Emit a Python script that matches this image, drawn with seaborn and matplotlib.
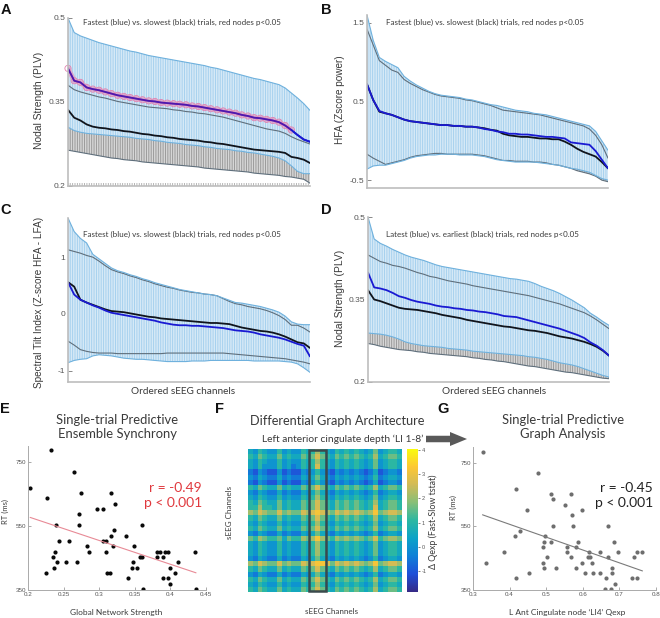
"""Ordered sEEG channel curves with single-trial scatter and graph heatmap."""

import matplotlib
matplotlib.use("Agg")
import matplotlib.pyplot as plt
from matplotlib.colors import LinearSegmentedColormap
from matplotlib.patches import FancyArrow, Rectangle
import numpy as np
import seaborn as sns

CHANNELS = list(range(40))

A_FAST_UPPER = [.500,.474,.468,.464,.460,.456,.453,.450,.447,.444,.441,.439,.436,.433,.431,.429,.427,.425,.423,.421,.419,.417,.415,.412,.410,.407,.404,.401,.398,.395,.392,.390,.387,.384,.381,.375,.366,.357,.347,.335]
A_FAST_MEAN = [.410,.388,.385,.376,.373,.371,.368,.365,.362,.360,.358,.356,.354,.352,.351,.349,.348,.347,.346,.345,.343,.342,.340,.338,.336,.334,.332,.330,.327,.325,.322,.321,.319,.317,.314,.308,.300,.291,.283,.279]
A_FAST_LOWER = [.305,.299,.296,.294,.293,.292,.291,.290,.289,.288,.287,.285,.284,.283,.281,.280,.278,.277,.276,.274,.273,.272,.270,.269,.267,.266,.265,.263,.262,.260,.259,.257,.255,.253,.250,.245,.236,.226,.222,.222]
A_SLOW_UPPER = [.380,.372,.368,.365,.362,.359,.357,.354,.351,.349,.347,.345,.343,.341,.340,.339,.338,.336,.335,.333,.332,.330,.329,.327,.325,.323,.320,.317,.314,.311,.308,.305,.302,.300,.298,.294,.288,.283,.279,.275]
A_SLOW_MEAN = [.336,.322,.317,.310,.306,.304,.303,.301,.300,.298,.297,.295,.293,.292,.290,.289,.287,.286,.284,.283,.282,.281,.279,.278,.276,.275,.273,.271,.269,.267,.265,.264,.263,.262,.261,.259,.252,.250,.247,.241]
A_SLOW_LOWER = [.264,.262,.260,.258,.256,.254,.252,.250,.249,.247,.246,.245,.243,.242,.241,.240,.239,.238,.237,.236,.235,.234,.232,.231,.230,.229,.228,.227,.226,.225,.223,.222,.221,.220,.219,.217,.216,.214,.212,.205]

B_FAST_UPPER = [1.60,1.28,1.06,1.01,.97,.93,.82,.76,.71,.67,.63,.60,.58,.57,.56,.55,.53,.52,.50,.48,.46,.45,.43,.41,.39,.38,.37,.35,.34,.33,.31,.29,.27,.25,.23,.21,.19,.12,.00,-.12]
B_FAST_MEAN = [.72,.52,.38,.35,.33,.30,.27,.25,.24,.23,.22,.21,.20,.20,.19,.19,.18,.18,.17,.15,.14,.12,.11,.09,.09,.08,.08,.07,.06,.05,.05,.04,.03,-.02,-.03,-.04,-.05,-.13,-.24,-.35]
B_FAST_LOWER = [-.36,-.32,-.31,-.31,-.29,-.27,-.25,-.22,-.20,-.19,-.18,-.18,-.17,-.17,-.17,-.18,-.18,-.18,-.19,-.20,-.22,-.24,-.25,-.26,-.27,-.27,-.27,-.27,-.28,-.29,-.30,-.31,-.33,-.35,-.36,-.38,-.40,-.44,-.48,-.50]
B_SLOW_UPPER = [1.42,1.22,1.02,.96,.90,.87,.78,.73,.69,.65,.62,.59,.57,.56,.55,.54,.52,.51,.49,.47,.45,.42,.39,.38,.37,.36,.35,.34,.33,.31,.29,.27,.25,.23,.21,.19,.15,.07,-.05,-.22]
B_SLOW_MEAN = [.72,.52,.37,.35,.33,.30,.27,.25,.24,.23,.22,.21,.20,.20,.19,.19,.18,.18,.17,.16,.14,.13,.09,.07,.06,.05,.05,.04,.03,.03,.02,.02,-.01,-.05,-.10,-.14,-.17,-.20,-.27,-.35]
B_SLOW_LOWER = [-.17,-.22,-.26,-.30,-.28,-.26,-.24,-.21,-.19,-.18,-.17,-.16,-.16,-.17,-.17,-.17,-.17,-.17,-.18,-.19,-.21,-.23,-.25,-.25,-.26,-.26,-.26,-.27,-.27,-.28,-.30,-.31,-.33,-.35,-.38,-.40,-.42,-.45,-.50,-.52]

C_FAST_UPPER = [1.69,1.45,1.33,1.25,1.05,.97,.89,.81,.76,.73,.69,.66,.62,.59,.55,.52,.49,.46,.43,.41,.39,.37,.35,.34,.32,.28,.24,.20,.19,.17,.15,.13,.10,.07,.03,-.04,-.14,-.18,-.19,-.19]
C_FAST_MEAN = [.56,.34,.25,.20,.15,.11,.06,.02,.00,-.02,-.04,-.06,-.08,-.10,-.12,-.15,-.17,-.19,-.20,-.20,-.21,-.21,-.22,-.23,-.24,-.25,-.27,-.29,-.30,-.31,-.33,-.36,-.38,-.40,-.42,-.45,-.49,-.53,-.56,-.75]
C_FAST_LOWER = [-.86,-.82,-.80,-.79,-.74,-.72,-.73,-.74,-.76,-.78,-.79,-.80,-.80,-.81,-.82,-.83,-.84,-.84,-.84,-.84,-.83,-.83,-.83,-.82,-.82,-.82,-.82,-.82,-.82,-.82,-.83,-.83,-.83,-.83,-.83,-.84,-.85,-.88,-.95,-1.03]
C_SLOW_UPPER = [1.13,1.10,1.07,1.03,1.00,.93,.85,.78,.74,.71,.67,.64,.60,.57,.53,.50,.47,.45,.42,.40,.38,.37,.35,.34,.32,.27,.22,.18,.16,.13,.11,.09,.06,.02,-.03,-.10,-.20,-.20,-.25,-.32]
C_SLOW_MEAN = [.56,.48,.25,.20,.16,.12,.08,.05,.04,.03,.01,-.01,-.03,-.05,-.06,-.08,-.09,-.10,-.11,-.12,-.13,-.14,-.15,-.16,-.16,-.17,-.18,-.21,-.24,-.26,-.28,-.30,-.31,-.33,-.36,-.40,-.45,-.50,-.52,-.60]
C_SLOW_LOWER = [-.48,-.55,-.63,-.66,-.68,-.69,-.69,-.69,-.70,-.70,-.70,-.70,-.70,-.70,-.70,-.70,-.69,-.69,-.69,-.69,-.69,-.69,-.69,-.69,-.69,-.69,-.70,-.71,-.72,-.73,-.74,-.75,-.76,-.77,-.78,-.79,-.81,-.83,-.85,-.88]

D_FAST_UPPER = [.500,.460,.452,.447,.441,.436,.431,.427,.424,.421,.417,.413,.410,.408,.406,.404,.402,.400,.398,.396,.394,.392,.390,.388,.387,.385,.383,.379,.374,.370,.366,.361,.355,.349,.342,.335,.325,.318,.310,.303]
D_FAST_MEAN = [.399,.372,.370,.367,.362,.356,.353,.349,.346,.344,.342,.339,.337,.336,.334,.333,.331,.330,.328,.327,.325,.323,.320,.319,.318,.315,.312,.309,.306,.303,.300,.297,.293,.289,.285,.280,.272,.266,.258,.248]
D_FAST_LOWER = [.289,.288,.287,.285,.282,.278,.273,.270,.268,.266,.265,.264,.263,.261,.260,.259,.258,.256,.255,.254,.253,.252,.251,.250,.249,.248,.246,.245,.243,.241,.238,.235,.233,.231,.228,.224,.220,.216,.212,.209]
D_SLOW_UPPER = [.431,.425,.419,.416,.412,.410,.407,.403,.399,.396,.392,.390,.387,.384,.382,.380,.378,.375,.373,.371,.369,.367,.365,.363,.361,.359,.357,.354,.351,.348,.345,.342,.338,.334,.330,.326,.320,.313,.305,.297]
D_SLOW_MEAN = [.367,.350,.347,.343,.339,.335,.333,.332,.331,.329,.327,.325,.322,.320,.318,.316,.313,.311,.309,.307,.305,.303,.301,.300,.298,.296,.294,.293,.291,.289,.286,.283,.281,.279,.276,.273,.269,.264,.257,.248]
D_SLOW_LOWER = [.270,.268,.265,.263,.261,.259,.258,.257,.255,.254,.252,.251,.250,.249,.248,.247,.246,.244,.243,.241,.240,.238,.237,.235,.233,.231,.229,.228,.226,.224,.222,.220,.218,.217,.215,.213,.211,.209,.207,.206]

E_STRENGTH = [.232,.265,.203,.274,.226,.317,.322,.297,.305,.272,.272,.240,.360,.321,.338,.316,.243,.257,.305,.309,.283,.320,.349,.238,.285,.309,.381,.386,.392,.396,.435,.235,.357,.360,.381,.389,.241,.254,.269,.348,.410,.237,.346,.353,.400,.225,.311,.315,.407,.341,.390,.396,.400,.361,.436]
E_RT = [787,720,670,653,636,653,619,603,603,586,553,553,553,536,519,519,502,502,502,502,486,486,486,469,469,469,469,469,469,469,469,452,452,452,452,452,436,436,436,436,436,419,419,419,419,402,402,402,402,386,386,386,369,352,352]

G_QEXP = [.326,.478,.418,.514,.569,.519,.552,.448,.597,.570,.519,.574,.670,.429,.415,.498,.493,.512,.587,.685,.492,.558,.582,.386,.558,.617,.646,.697,.747,.763,.503,.569,.613,.621,.668,.740,.336,.492,.597,.625,.494,.528,.581,.680,.418,.454,.607,.627,.646,.680,.663,.735,.748,.689,.662,.676]
G_RT = [785,717,669,652,652,636,619,602,602,586,552,552,552,535,519,519,502,502,502,502,486,486,486,469,469,469,469,469,469,469,453,453,453,453,453,453,436,436,436,436,419,419,419,419,387,402,402,402,402,402,387,387,387,370,352,352]

# one digit per cell, digit d reads as t-stat d * 0.52 - 1.0
HEAT_ROWS = [
    "32432242322434643243434323523443",
    "43543353433545754354545434634554",
    "32432242322434643243434323523443",
    "32422242312434743243434323523443",
    "10210020100212421021212101301221",
    "21321131211323532132323212412332",
    "10210020100212421021212101301221",
    "43543353433545754354545434634554",
    "21321131211323532132323212412332",
    "32432242322434643243434323523443",
    "43543353433545754354545434634554",
    "44644353433545754354545434734554",
    "65765575655767876576767656856776",
    "43543353433545754354545434634554",
    "32432242322434643243434323523443",
    "43543353433545754354545434634554",
    "21321131211323532132323212412332",
    "54654453544656865465656545745665",
    "32432242322434643243434323523443",
    "32432242322434643243434323523443",
    "32432242322434643243434323523443",
    "21321131211323532132323212412332",
    "65765575655767887576767656856776",
    "43543353433545754354545434634554",
    "21321131211323532132323212412332",
    "43543353433545754354545434634554",
    "32432242322434643243434323523443",
    "43543353433545754354545434634554",
]

Y_TICKS_A = [0.2, 0.35, 0.5]
Y_TICKS_B = [-0.5, 0.5, 1.5]
Y_TICKS_C = [-1, 0, 1]
RT_TICKS = [350, 550, 750]
E_X_TICKS = [0.2, 0.25, 0.3, 0.35, 0.4, 0.45]
G_X_TICKS = [0.3, 0.4, 0.5, 0.6, 0.7, 0.8]
CBAR_TICKS = [-1, 0, 1, 2, 3, 4]

PARULA = ["#352a87", "#1f4fd8", "#1080d8", "#0ca3c8", "#2cb7a2", "#86bf78", "#d0bb58", "#fdc733", "#f9fb0e"]
W, H = 660, 618
TEXT = "#3a3a3a"
TICK = "#555555"
SANS = ["Liberation Sans", "DejaVu Sans"]
STRIPES = "|||||||"  # about one bar every 2.4 px at 100 dpi


def px_axes(fig, left, top, right, bottom):
    return fig.add_axes([left / W, 1 - bottom / H, (right - left) / W, (bottom - top) / H])


def label(fig, x, y, text, **kw):
    kw.setdefault("ha", "center")
    kw.setdefault("va", "center")
    kw.setdefault("color", TEXT)
    fig.text(x / W, 1 - y / H, text, **kw)


def curve_panel(ax, fast, slow, ylim, yticks, tick_fmt):
    f_up, f_mean, f_low = fast
    s_up, s_mean, s_low = slow
    # slow trials sit underneath, the blue bars cover most of them
    ax.fill_between(CHANNELS, s_low, s_up, facecolor="#d6d6d6", edgecolor="#969696", hatch=STRIPES, lw=0)
    ax.fill_between(CHANNELS, f_low, f_up, facecolor="#d6e9f6", edgecolor="#a3cfee", hatch=STRIPES, lw=0)
    ax.plot(CHANNELS, s_up, color="#5f6f7c", lw=0.8)
    ax.plot(CHANNELS, s_low, color="#5f6f7c", lw=0.8)
    ax.plot(CHANNELS, f_up, color="#6fb1dd", lw=0.8)
    ax.plot(CHANNELS, f_low, color="#6fb1dd", lw=0.8)
    sns.lineplot(x=CHANNELS, y=s_mean, ax=ax, color="#10141c", lw=1.3, errorbar=None)
    sns.lineplot(x=CHANNELS, y=f_mean, ax=ax, color="#1a1ad2", lw=1.3, errorbar=None)
    ax.set_xlim(0, 39)
    ax.set_ylim(*ylim)
    ax.set_xticks([])
    ax.set_yticks(yticks)
    ax.set_yticklabels([tick_fmt % t for t in yticks], fontsize=6, color=TICK, family=SANS)
    ax.tick_params(axis="y", left=True, length=3, width=0.7, color="#888888", pad=2, direction="in")
    sns.despine(ax=ax)
    for side in ("left", "bottom"):
        ax.spines[side].set_color("#bdbdbd")
        ax.spines[side].set_linewidth(1.2)


def scatter_panel(ax, x, y, dot, line, xticks, xlim):
    sns.regplot(x=x, y=y, ax=ax, scatter=False, ci=None, truncate=True,
                line_kws={"color": line, "lw": 0.8})
    sns.scatterplot(x=x, y=y, ax=ax, color=dot, s=9, linewidth=0)
    ax.set_xlim(*xlim)
    ax.set_ylim(350, 800)
    ax.set_xticks(xticks)
    ax.set_xticklabels([f"{t:g}" for t in xticks], fontsize=4.5, color=TICK, family=SANS)
    ax.set_yticks(RT_TICKS)
    ax.set_yticklabels([str(t) for t in RT_TICKS], fontsize=4.5, color=TICK, family=SANS)
    ax.tick_params(left=True, bottom=True, length=2, width=0.5, color="#888888", pad=1.5, direction="in")
    sns.despine(ax=ax)
    for side in ("left", "bottom"):
        ax.spines[side].set_color("#aaaaaa")
        ax.spines[side].set_linewidth(0.7)


sns.set_theme(style="white")
plt.rcParams["font.family"] = ["Lato", "DejaVu Sans"]
plt.rcParams["hatch.linewidth"] = 0.65

fig = plt.figure(figsize=(W / 100, H / 100), dpi=100, facecolor="white")

ax_a = px_axes(fig, 68, 18, 310, 186)
curve_panel(ax_a, (A_FAST_UPPER, A_FAST_MEAN, A_FAST_LOWER), (A_SLOW_UPPER, A_SLOW_MEAN, A_SLOW_LOWER),
            (0.2, 0.5), Y_TICKS_A, "%g")
# significant nodes get a pink ring over the fast curve
sns.lineplot(x=CHANNELS[:37], y=A_FAST_MEAN[:37], ax=ax_a, color="#e78fb8", lw=3.6, alpha=0.65, errorbar=None)
sns.scatterplot(x=CHANNELS[:37], y=A_FAST_MEAN[:37], ax=ax_a, facecolor="none", edgecolor="#e27fae",
                s=20, linewidth=0.6, clip_on=False)
sns.lineplot(x=CHANNELS[:37], y=A_FAST_MEAN[:37], ax=ax_a, color="#4f17ad", lw=1.3, errorbar=None)
sns.lineplot(x=CHANNELS[36:], y=A_FAST_MEAN[36:], ax=ax_a, color="#1a1ad2", lw=1.3, errorbar=None)
ax_a.axhspan(0.2, 0.205, facecolor="white", edgecolor="#b0b0b0", hatch=STRIPES, lw=0)

ax_b = px_axes(fig, 367, 15, 608, 188)
curve_panel(ax_b, (B_FAST_UPPER, B_FAST_MEAN, B_FAST_LOWER), (B_SLOW_UPPER, B_SLOW_MEAN, B_SLOW_LOWER),
            (-0.6, 1.6), Y_TICKS_B, "%g")

ax_c = px_axes(fig, 68, 218, 310, 382)
curve_panel(ax_c, (C_FAST_UPPER, C_FAST_MEAN, C_FAST_LOWER), (C_SLOW_UPPER, C_SLOW_MEAN, C_SLOW_LOWER),
            (-1.2, 1.69), Y_TICKS_C, "%g")

ax_d = px_axes(fig, 368, 217, 609, 382)
curve_panel(ax_d, (D_FAST_UPPER, D_FAST_MEAN, D_FAST_LOWER), (D_SLOW_UPPER, D_SLOW_MEAN, D_SLOW_LOWER),
            (0.2, 0.5), Y_TICKS_A, "%g")

ax_e = px_axes(fig, 28, 446, 206, 590)
scatter_panel(ax_e, E_STRENGTH, E_RT, "#0a0a0a", "#e88a96", E_X_TICKS, (0.2, 0.45))

ax_g = px_axes(fig, 473, 447, 656, 590)
scatter_panel(ax_g, G_QEXP, G_RT, "#6e6e6e", "#7a7a7a", G_X_TICKS, (0.3, 0.8))

# graph differences, columns and rows share the same channels
ax_f = px_axes(fig, 248, 449, 402, 592)
cax = px_axes(fig, 407, 449, 418, 592)
matrix = np.array([[int(ch) * 0.52 - 1.0 for ch in row] for row in HEAT_ROWS])
parula = LinearSegmentedColormap.from_list("parula", PARULA)
sns.heatmap(matrix, ax=ax_f, cbar_ax=cax, cmap=parula, vmin=-1.85, vmax=4.03,
            xticklabels=False, yticklabels=False, linewidths=0)
cax.set_yticks(CBAR_TICKS)
cax.set_yticklabels([str(t) for t in CBAR_TICKS], fontsize=4, color=TICK, family=SANS)
cax.tick_params(length=1.5, width=0.4, pad=1)
ax_f.add_patch(Rectangle((12.7, 0.1), 3.5, 27.8, fill=False, ec="#3a4a4c", lw=1.8, clip_on=False))

fig.add_artist(FancyArrow(426 / W, 1 - 439 / H, 41 / W, 0, width=6.5 / H, head_width=14 / H,
                          head_length=17 / W, length_includes_head=True, color="#595959", lw=0,
                          transform=fig.transFigure))

for x, y, letter in [(6, 10, "A"), (326, 10, "B"), (6, 210, "C"), (326, 210, "D"),
                     (5, 409, "E"), (220, 409, "F"), (443, 409, "G")]:
    label(fig, x, y, letter, fontsize=10.5, fontweight="bold", color="#111111", family=SANS)

NOTE_FAST = "Fastest (blue) vs. slowest (black) trials, red nodes p<0.05"
NOTE_LATE = "Latest (blue) vs. earliest (black) trials, red nodes p<0.05"
for x, y, text in [(83, 22, NOTE_FAST), (386, 22, NOTE_FAST), (83, 234, NOTE_FAST), (386, 234, NOTE_LATE)]:
    label(fig, x, y, text, ha="left", fontsize=5.8)

for x, y, text, size in [(39, 100, "Nodal Strength (PLV)", 7.4), (340, 100, "HFA (Zscore power)", 7.2),
                         (39, 302, "Spectral Tilt Index (Z-score HFA - LFA)", 7.2),
                         (340, 298, "Nodal Strength (PLV)", 7.4)]:
    label(fig, x, y, text, rotation=90, fontsize=size, family=SANS)
for x in (183, 494):
    label(fig, x, 392, "Ordered sEEG channels", fontsize=7.2)

label(fig, 117, 427, "Single-trial Predictive\nEnsemble Synchrony", fontsize=9.4, linespacing=1.1)
label(fig, 337, 421, "Differential Graph Architecture", fontsize=9.2)
label(fig, 343, 439, "Left anterior cingulate depth \u2018LI 1-8\u2019", fontsize=7.4)
label(fig, 563, 427, "Single-trial Predictive\nGraph Analysis", fontsize=9.4, linespacing=1.1)

label(fig, 202, 488, "r = -0.49", ha="right", fontsize=10, color="#e0393e")
label(fig, 202, 503, "p < 0.001", ha="right", fontsize=10, color="#e0393e")
label(fig, 653, 488, "r = -0.45", ha="right", fontsize=10, color="#222222")
label(fig, 653, 503, "p < 0.001", ha="right", fontsize=10, color="#222222")

label(fig, 116, 612, "Global Network Strength", fontsize=6)
label(fig, 332, 612, "sEEG Channels", fontsize=5.8)
label(fig, 567, 612, "L Ant Cingulate node \u2018LI4\u2019 Qexp", fontsize=6)
label(fig, 5, 511, "RT (ms)", rotation=90, fontsize=5.5)
label(fig, 453, 507, "RT (ms)", rotation=90, fontsize=5.5)
label(fig, 229, 512, "sEEG Channels", rotation=90, fontsize=5.8)
label(fig, 433, 522, "\u0394 Qexp (Fast-Slow tstat)", rotation=90, fontsize=6.4)

fig.savefig("out.png", dpi=100, facecolor="white")
plt.close(fig)
